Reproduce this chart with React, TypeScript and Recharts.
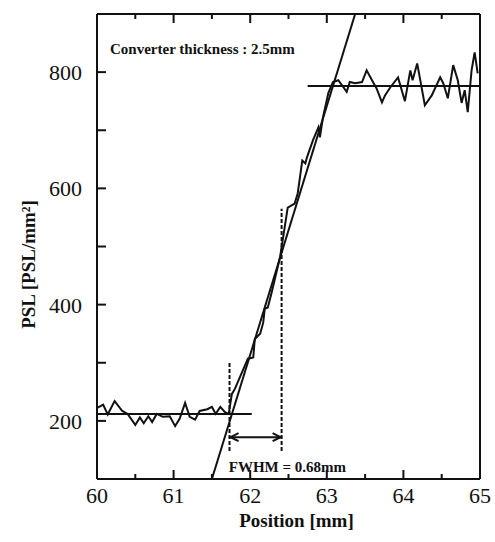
import {
  LineChart,
  Line,
  XAxis,
  YAxis,
  ReferenceLine,
  ReferenceDot,
} from "recharts";

// measured profile across the edge
const positions = [
  60.01, 60.08, 60.14, 60.23, 60.33, 60.4, 60.5, 60.56, 60.61, 60.67, 60.72,
  60.78, 60.86, 60.95, 61.02, 61.08, 61.15, 61.21, 61.28, 61.34, 61.44, 61.5,
  61.55, 61.61, 61.67, 61.72, 61.76, 61.8, 61.97, 62.04, 62.06, 62.13, 62.17,
  62.19, 62.23, 62.28, 62.39, 62.45, 62.49, 62.58, 62.62, 62.68, 62.72, 62.74,
  62.82, 62.89, 62.91, 62.95, 63.02, 63.08, 63.15, 63.26, 63.3, 63.37, 63.46,
  63.52, 63.59, 63.65, 63.72, 63.76, 63.83, 63.93, 64.02, 64.09, 64.12, 64.18,
  64.28, 64.37, 64.48, 64.52, 64.58, 64.65, 64.71, 64.76, 64.8, 64.84, 64.89,
  64.93, 64.97,
];
const psl = [
  223, 228, 211, 234, 217, 212, 193, 206, 196, 208, 198, 212, 207, 208, 191,
  204, 231, 207, 202, 217, 220, 224, 212, 224, 215, 212, 246, 255, 307, 309,
  341, 350, 369, 393, 395, 421, 482, 533, 567, 574, 591, 648, 643, 653, 683,
  705, 688, 722, 764, 783, 786, 766, 783, 781, 783, 803, 786, 772, 748, 760,
  774, 791, 750, 803, 786, 815, 743, 760, 791, 781, 755, 812, 786, 747, 769,
  731, 803, 834, 798,
];

// fitted edge and levels
const fitLine = [
  { x: 61.5, y: 100 },
  { x: 63.37, y: 900 },
];
const lowLevel = 212;
const lowLevelRange = [60, 62.02];
const highLevel = 776;
const highLevelRange = [62.75, 65];
const fwhmStart = 61.73;
const fwhmEnd = 62.41;
const leftDash = [148, 300];
const rightDash = [148, 565];
const arrowLevel = 172;

const xTicks = [60, 60.5, 61, 61.5, 62, 62.5, 63, 63.5, 64, 64.5, 65];
const yTicks = [200, 300, 400, 500, 600, 700, 800];

const data = positions.map((x, i) => ({ x, y: psl[i] }));

const INK = "#111";
const SERIF = "'Liberation Serif', 'Times New Roman', serif";
const GAP_X = 8;
const GAP_Y = 15;

const ArrowShape = (p: any) => {
  const { x1, y1, x2, y2 } = p;
  const h = 9;
  return (
    <g>
      <line x1={x1} y1={y1} x2={x2} y2={y2} stroke={INK} strokeWidth={2} />
      <path
        d={`M${x1 + h},${y1 - 4} L${x1 + 1},${y1} L${x1 + h},${y1 + 4}`}
        fill="none"
        stroke={INK}
        strokeWidth={2}
      />
      <path
        d={`M${x2 - h},${y2 - 4} L${x2 - 1},${y2} L${x2 - h},${y2 + 4}`}
        fill="none"
        stroke={INK}
        strokeWidth={2}
      />
    </g>
  );
};

// ticks drawn pointing into the frame, like the original plot
const BottomTick = (p: any) => {
  const { x, y, payload } = p;
  const v = payload.value;
  const major = Number.isInteger(v);
  const ay = y - GAP_X;
  return (
    <g>
      <line x1={x} y1={ay} x2={x} y2={ay - (major ? 9 : 5)} stroke={INK} strokeWidth={2} />
      {major && (
        <text x={x} y={y} dy="0.71em" textAnchor="middle" fill={INK} fontSize={22} fontFamily={SERIF}>
          {v}
        </text>
      )}
    </g>
  );
};

const TopTick = (p: any) => {
  const { x, y, payload } = p;
  const major = Number.isInteger(payload.value);
  const ay = y + 2;
  return <line x1={x} y1={ay} x2={x} y2={ay + (major ? 9 : 5)} stroke={INK} strokeWidth={2} />;
};

const LeftTick = (p: any) => {
  const { x, y, payload } = p;
  const v = payload.value;
  const ax = x + GAP_Y;
  return (
    <g>
      <line x1={ax} y1={y} x2={ax + 9} y2={y} stroke={INK} strokeWidth={2} />
      {v % 200 === 0 && (
        <text x={x} y={y} dy="0.36em" textAnchor="end" fill={INK} fontSize={22} fontFamily={SERIF}>
          {v}
        </text>
      )}
    </g>
  );
};

const RightTick = (p: any) => {
  const { x, y } = p;
  const ax = x - 2;
  return <line x1={ax} y1={y} x2={ax - 9} y2={y} stroke={INK} strokeWidth={2} />;
};

export default function App() {
  return (
    <div style={{ position: "absolute", left: 0, top: 0 }}>
      <LineChart
        width={495}
        height={542}
        data={data}
        margin={{ top: 0, right: 0, bottom: 0, left: 0 }}
      >
        <XAxis
          dataKey="x"
          type="number"
          domain={[60, 65]}
          ticks={xTicks}
          height={63}
          tickSize={0}
          tickMargin={GAP_X}
          tickLine={false}
          axisLine={{ stroke: INK, strokeWidth: 2 }}
          tick={BottomTick}
          label={{
            content: (props: any) => {
              const vb = props.viewBox;
              return (
                <text
                  x={vb.x + vb.width / 2 + 8}
                  y={vb.y + 48}
                  textAnchor="middle"
                  fontFamily={SERIF}
                  fontWeight="bold"
                  fontSize={19}
                  fill={INK}
                >
                  Position [mm]
                </text>
              );
            },
          }}
        />
        <XAxis
          xAxisId="top"
          orientation="top"
          dataKey="x"
          type="number"
          domain={[60, 65]}
          ticks={xTicks}
          height={14}
          tickSize={0}
          tickMargin={2}
          tickLine={false}
          axisLine={{ stroke: INK, strokeWidth: 2 }}
          tick={TopTick}
        />
        <YAxis
          type="number"
          domain={[100, 900]}
          ticks={yTicks}
          width={97}
          tickSize={0}
          tickMargin={GAP_Y}
          tickLine={false}
          axisLine={{ stroke: INK, strokeWidth: 2 }}
          tick={LeftTick}
          label={{
            content: (props: any) => {
              const vb = props.viewBox;
              const cx = vb.x + 28;
              const cy = vb.y + vb.height / 2 + 18;
              return (
                <text
                  x={cx}
                  y={cy}
                  transform={`rotate(-90, ${cx}, ${cy})`}
                  textAnchor="middle"
                  dominantBaseline="central"
                  fontFamily={SERIF}
                  fontWeight="bold"
                  fontSize={19}
                  fill={INK}
                >
                  PSL [PSL/mm²]
                </text>
              );
            },
          }}
        />
        <YAxis
          yAxisId="right"
          orientation="right"
          type="number"
          domain={[100, 900]}
          ticks={yTicks}
          width={15}
          tickSize={0}
          tickMargin={2}
          tickLine={false}
          axisLine={{ stroke: INK, strokeWidth: 2 }}
          tick={RightTick}
        />

        <ReferenceLine segment={fitLine} stroke={INK} strokeWidth={2} />
        <ReferenceLine
          segment={[
            { x: lowLevelRange[0], y: lowLevel },
            { x: lowLevelRange[1], y: lowLevel },
          ]}
          stroke={INK}
          strokeWidth={2}
        />
        <ReferenceLine
          segment={[
            { x: highLevelRange[0], y: highLevel },
            { x: highLevelRange[1], y: highLevel },
          ]}
          stroke={INK}
          strokeWidth={2}
        />
        <ReferenceLine
          segment={[
            { x: fwhmStart, y: leftDash[0] },
            { x: fwhmStart, y: leftDash[1] },
          ]}
          stroke={INK}
          strokeWidth={2}
          strokeDasharray="4 2"
        />
        <ReferenceLine
          segment={[
            { x: fwhmEnd, y: rightDash[0] },
            { x: fwhmEnd, y: rightDash[1] },
          ]}
          stroke={INK}
          strokeWidth={2}
          strokeDasharray="4 2"
        />
        <ReferenceLine
          segment={[
            { x: fwhmStart, y: arrowLevel },
            { x: fwhmEnd, y: arrowLevel },
          ]}
          shape={ArrowShape}
        />

        <Line
          dataKey="y"
          stroke={INK}
          strokeWidth={2}
          dot={false}
          type="linear"
          isAnimationActive={false}
        />

        <ReferenceDot
          x={60.17}
          y={841}
          r={0}
          fill="none"
          stroke="none"
          label={{
            value: "Converter thickness : 2.5mm",
            position: "right",
            offset: 0,
            fill: INK,
            fontSize: 15,
            fontWeight: "bold",
            fontFamily: SERIF,
          }}
        />
        <ReferenceDot
          x={61.72}
          y={122}
          r={0}
          fill="none"
          stroke="none"
          label={{
            value: "FWHM = 0.68mm",
            position: "right",
            offset: 0,
            fill: INK,
            fontSize: 15,
            fontWeight: "bold",
            fontFamily: SERIF,
          }}
        />
      </LineChart>
    </div>
  );
}
